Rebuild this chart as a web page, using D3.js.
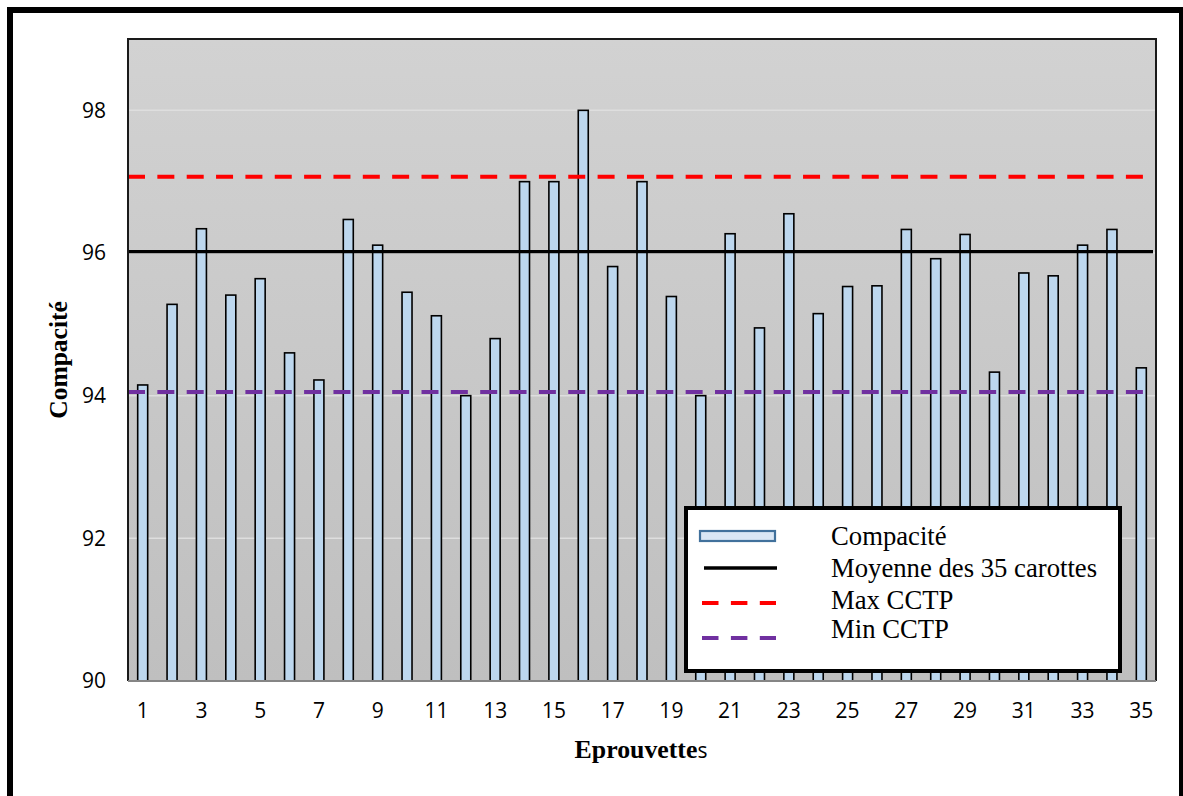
<!DOCTYPE html>
<html>
<head>
<meta charset="utf-8">
<script src="https://cdn.jsdelivr.net/npm/d3@7/dist/d3.min.js"></script>
<style>
  html, body { margin: 0; padding: 0; background: #ffffff; }
  svg { display: block; }
</style>
</head>
<body>
<script>
// Compacité des 35 éprouvettes (carottes)
const categories = d3.range(1, 36);
const compacite = [
  94.15, 95.28, 96.34, 95.41, 95.64, 94.60, 94.22, 96.47, 96.11, 95.45,
  95.12, 94.00, 94.80, 97.00, 97.00, 98.00, 95.81, 97.00, 95.39, 94.00,
  96.27, 94.95, 96.55, 95.15, 95.53, 95.54, 96.33, 95.92, 96.26, 94.33,
  95.72, 95.68, 96.11, 96.33, 94.39
];
const moyenne = 96.02;
const maxCCTP = 97.07;
const minCCTP = 94.05;
const yTicks = [90, 92, 94, 96, 98];
const xTickLabels = categories.filter(d => d % 2 === 1);
const legendLabels = ["Compacité", "Moyenne des 35 carottes", "Max CCTP", "Min CCTP"];

const W = 1183, H = 796;
const plot = { left: 128, top: 39, right: 1156, bottom: 681 };

const svg = d3.select("body").append("svg")
  .attr("width", W).attr("height", H);

// outer frame
svg.append("rect")
  .attr("x", 10).attr("y", 10)
  .attr("width", 1172).attr("height", 810)
  .attr("fill", "none").attr("stroke", "#000").attr("stroke-width", 6);

const x = d3.scaleBand()
  .domain(categories)
  .range([plot.left, plot.right])
  .paddingInner(0.66).paddingOuter(0.33);

const y = d3.scaleLinear()
  .domain([90, 99])
  .range([plot.bottom, plot.top]);

// plot background gradient
const defs = svg.append("defs");
const grad = defs.append("linearGradient")
  .attr("id", "bg").attr("x1", 0).attr("y1", 0).attr("x2", 0).attr("y2", 1);
grad.append("stop").attr("offset", "0%").attr("stop-color", "#d2d2d2");
grad.append("stop").attr("offset", "100%").attr("stop-color", "#bfbfbf");

svg.append("rect")
  .attr("x", plot.left).attr("y", plot.top)
  .attr("width", plot.right - plot.left).attr("height", plot.bottom - plot.top)
  .attr("fill", "url(#bg)");

// horizontal gridlines
svg.append("g")
  .selectAll("line")
  .data(yTicks.filter(d => d > 90))
  .join("line")
  .attr("x1", plot.left).attr("x2", plot.right)
  .attr("y1", d => y(d)).attr("y2", d => y(d))
  .attr("stroke", "#dedede").attr("stroke-width", 1.5);

// bars
svg.append("g")
  .selectAll("rect")
  .data(compacite)
  .join("rect")
  .attr("x", (d, i) => x(categories[i]))
  .attr("y", d => y(d))
  .attr("width", x.bandwidth())
  .attr("height", d => y(90) - y(d))
  .attr("fill", "#bdd7ee")
  .attr("stroke", "#000")
  .attr("stroke-width", 1.6);

// reference lines
const xStart = plot.left, xEnd = plot.right - 3;
svg.append("line")
  .attr("x1", xStart).attr("x2", xEnd)
  .attr("y1", y(moyenne)).attr("y2", y(moyenne))
  .attr("stroke", "#000").attr("stroke-width", 3.2);
svg.append("line")
  .attr("x1", xStart).attr("x2", xEnd)
  .attr("y1", y(maxCCTP)).attr("y2", y(maxCCTP))
  .attr("stroke", "#ff0000").attr("stroke-width", 4)
  .attr("stroke-dasharray", "17 12.35");
svg.append("line")
  .attr("x1", xStart).attr("x2", xEnd)
  .attr("y1", y(minCCTP)).attr("y2", y(minCCTP))
  .attr("stroke", "#7030a0").attr("stroke-width", 4)
  .attr("stroke-dasharray", "17 12.35");

// plot border
svg.append("path")
  .attr("d", `M${plot.left},${plot.bottom} V${plot.top} H${plot.right} V${plot.bottom}`)
  .attr("fill", "none").attr("stroke", "#1a1a1a").attr("stroke-width", 2);
svg.append("line")
  .attr("x1", plot.left).attr("x2", plot.right)
  .attr("y1", plot.bottom).attr("y2", plot.bottom)
  .attr("stroke", "#858585").attr("stroke-width", 2);

// y axis labels
const yAxis = d3.axisLeft(y).tickValues(yTicks).tickSize(0).tickPadding(22)
  .tickFormat(d3.format("d"));
const gy = svg.append("g").attr("transform", `translate(${plot.left},0)`).call(yAxis);
gy.select(".domain").remove();
gy.selectAll("text")
  .attr("font-family", "'Open Sans', sans-serif")
  .attr("font-size", 21).attr("fill", "#000");

// x axis labels
const xAxis = d3.axisBottom(x)
  .tickValues(xTickLabels).tickSize(0).tickPadding(22);
const gx = svg.append("g").attr("transform", `translate(0,${plot.bottom})`).call(xAxis);
gx.select(".domain").remove();
gx.selectAll("text")
  .attr("font-family", "'Open Sans', sans-serif")
  .attr("font-size", 21).attr("fill", "#000");

// axis titles
const xt = svg.append("text")
  .attr("x", 641).attr("y", 758)
  .attr("text-anchor", "middle")
  .attr("fill", "#000");
xt.append("tspan")
  .attr("font-family", "'Liberation Serif', 'Times New Roman', serif")
  .attr("font-weight", "bold").attr("font-size", 25.8)
  .text("Eprouvette");
xt.append("tspan")
  .attr("font-family", "'Open Sans', sans-serif")
  .attr("font-size", 21)
  .text("s");

svg.append("text")
  .attr("transform", "translate(67,360) rotate(-90)")
  .attr("text-anchor", "middle")
  .attr("font-family", "'Liberation Serif', 'Times New Roman', serif")
  .attr("font-weight", "bold").attr("font-size", 25.5)
  .attr("fill", "#000")
  .text("Compacité");

// legend
const lg = svg.append("g");
lg.append("rect")
  .attr("x", 686).attr("y", 508)
  .attr("width", 434).attr("height", 163)
  .attr("fill", "#fff").attr("stroke", "#000").attr("stroke-width", 4);

lg.append("rect")
  .attr("x", 700).attr("y", 531).attr("width", 75).attr("height", 10)
  .attr("fill", "#dae7f5").attr("stroke", "#41719c").attr("stroke-width", 2.2);
lg.append("line")
  .attr("x1", 704).attr("x2", 777).attr("y1", 568).attr("y2", 568)
  .attr("stroke", "#000").attr("stroke-width", 3.5);
lg.append("line")
  .attr("x1", 702).attr("x2", 776).attr("y1", 603).attr("y2", 603)
  .attr("stroke", "#ff0000").attr("stroke-width", 4)
  .attr("stroke-dasharray", "16.5 12.4");
lg.append("line")
  .attr("x1", 702).attr("x2", 776).attr("y1", 638).attr("y2", 638)
  .attr("stroke", "#7030a0").attr("stroke-width", 4)
  .attr("stroke-dasharray", "16.5 12.4");

const legendBaselines = [545, 577, 609, 638];
lg.selectAll("text.leg")
  .data(legendLabels)
  .join("text")
  .attr("class", "leg")
  .attr("x", 831)
  .attr("y", (d, i) => legendBaselines[i])
  .attr("font-family", "'Liberation Serif', 'Times New Roman', serif")
  .attr("font-size", 26.7)
  .attr("fill", "#000")
  .text(d => d);
</script>
</body>
</html>
